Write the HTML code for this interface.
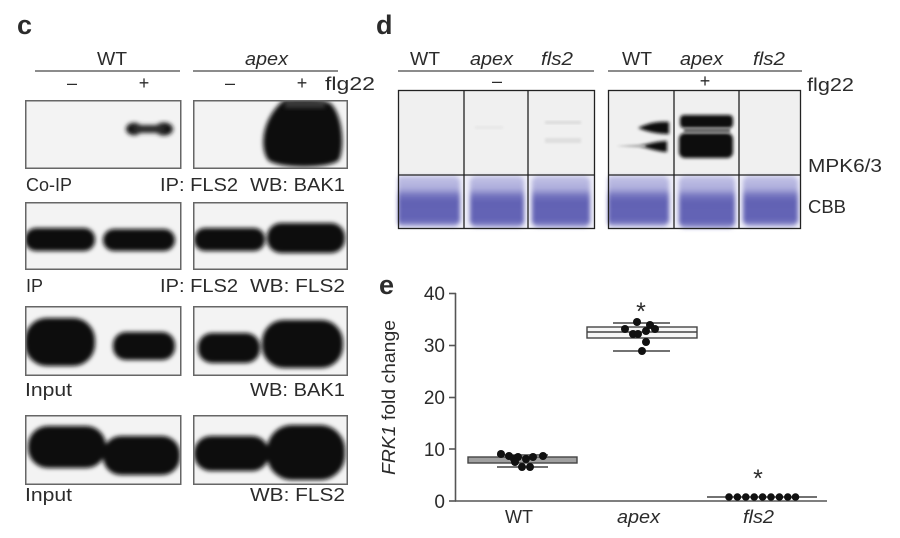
<!DOCTYPE html>
<html>
<head>
<meta charset="utf-8">
<style>
html,body{margin:0;padding:0;background:#fff;}
svg{display:block;}
text{font-family:"Liberation Sans",Arial,Helvetica,sans-serif;fill:#2b2b2b;}
</style>
</head>
<body>
<svg width="900" height="538" viewBox="0 0 900 538" xmlns="http://www.w3.org/2000/svg">
<defs>
  <filter id="b1" x="-30%" y="-30%" width="160%" height="160%"><feGaussianBlur stdDeviation="1.2"/></filter>
  <filter id="b15" x="-30%" y="-50%" width="160%" height="200%"><feGaussianBlur stdDeviation="1.7"/></filter>
  <filter id="b2" x="-30%" y="-30%" width="160%" height="160%"><feGaussianBlur stdDeviation="2"/></filter>
  <filter id="b3" x="-30%" y="-30%" width="160%" height="160%"><feGaussianBlur stdDeviation="2.8"/></filter>
  <linearGradient id="cbb" x1="0" y1="0" x2="0" y2="1">
    <stop offset="0" stop-color="#c2c2e6"/>
    <stop offset="0.25" stop-color="#aeaedc"/>
    <stop offset="0.38" stop-color="#7676c0"/>
    <stop offset="0.5" stop-color="#6262b4"/>
    <stop offset="0.88" stop-color="#6464b6"/>
    <stop offset="1" stop-color="#9a9ad2"/>
  </linearGradient>
  <clipPath id="cA1"><rect x="25" y="100" width="156" height="69"/></clipPath>
  <clipPath id="cB1"><rect x="193" y="100" width="155" height="69"/></clipPath>
  <clipPath id="cA2"><rect x="25" y="202" width="156" height="68"/></clipPath>
  <clipPath id="cB2"><rect x="193" y="202" width="155" height="68"/></clipPath>
  <clipPath id="cA3"><rect x="25" y="306" width="156" height="70"/></clipPath>
  <clipPath id="cB3"><rect x="193" y="306" width="155" height="70"/></clipPath>
  <clipPath id="cA4"><rect x="25" y="415" width="156" height="70"/></clipPath>
  <clipPath id="cB4"><rect x="193" y="415" width="155" height="70"/></clipPath>
  <clipPath id="dL1"><rect x="398" y="175" width="66" height="54"/></clipPath>
  <clipPath id="dL2"><rect x="464" y="175" width="64" height="54"/></clipPath>
  <clipPath id="dL3"><rect x="528" y="175" width="67" height="54"/></clipPath>
  <clipPath id="dR1"><rect x="608" y="175" width="66" height="54"/></clipPath>
  <clipPath id="dR2"><rect x="674" y="175" width="65" height="54"/></clipPath>
  <clipPath id="dR3"><rect x="739" y="175" width="62" height="54"/></clipPath>
  <clipPath id="dRt"><rect x="608" y="90" width="193" height="85"/></clipPath>
</defs>

<!-- ================= Panel c ================= -->
<text x="17" y="34" font-size="27" font-weight="bold" fill="#111">c</text>
<text x="97" y="65" font-size="18" textLength="30" lengthAdjust="spacingAndGlyphs">WT</text>
<text x="245" y="65" font-size="18" font-style="italic" textLength="43" lengthAdjust="spacingAndGlyphs">apex</text>
<line x1="35" y1="71" x2="180" y2="71" stroke="#666" stroke-width="1.5"/>
<line x1="193" y1="71" x2="338" y2="71" stroke="#666" stroke-width="1.5"/>
<text x="72" y="89" font-size="18" text-anchor="middle">–</text>
<text x="144" y="89" font-size="18" text-anchor="middle">+</text>
<text x="230" y="89" font-size="18" text-anchor="middle">–</text>
<text x="302" y="89" font-size="18" text-anchor="middle">+</text>
<text x="325" y="90" font-size="18" textLength="50" lengthAdjust="spacingAndGlyphs">flg22</text>

<!-- Row 1 Co-IP -->
<rect x="25.75" y="100.75" width="155" height="67.5" fill="#f3f3f3"/>
<rect x="193.75" y="100.75" width="153.5" height="67.5" fill="#f3f3f3"/>
<g clip-path="url(#cA1)">
  <g filter="url(#b2)" fill="#141414">
    <ellipse cx="134" cy="129" rx="8" ry="6.2"/>
    <ellipse cx="164" cy="129" rx="9" ry="6.5"/>
    <rect x="134" y="125" width="30" height="8" fill="#2a2a2a"/>
  </g>
</g>
<g clip-path="url(#cB1)">
  <path d="M 284 100 C 300 98, 318 98, 330 103 C 343 114, 345 148, 339 160 C 330 169, 278 169, 268 160 C 259 147, 262 118, 284 100 Z" fill="#0c0c0c" filter="url(#b2)"/>
  <rect x="285" y="99" width="40" height="9" fill="#555" filter="url(#b2)" opacity="0.6"/>
</g>
<rect x="25.75" y="100.75" width="155" height="67.5" fill="none" stroke="#666" stroke-width="1.5"/>
<rect x="193.75" y="100.75" width="153.5" height="67.5" fill="none" stroke="#666" stroke-width="1.5"/>
<text x="26" y="191" font-size="18" textLength="46" lengthAdjust="spacingAndGlyphs">Co-IP</text>
<text x="160" y="191" font-size="18" textLength="78" lengthAdjust="spacingAndGlyphs">IP: FLS2</text>
<text x="250" y="191" font-size="18" textLength="95" lengthAdjust="spacingAndGlyphs">WB: BAK1</text>

<!-- Row 2 IP -->
<rect x="25.75" y="202.75" width="155" height="66.5" fill="#f3f3f3"/>
<rect x="193.75" y="202.75" width="153.5" height="66.5" fill="#f3f3f3"/>
<g clip-path="url(#cA2)" filter="url(#b2)" fill="#0c0c0c">
  <rect x="25" y="228" width="70" height="23" rx="11"/>
  <rect x="103" y="229" width="72" height="22" rx="11"/>
</g>
<g clip-path="url(#cB2)" filter="url(#b2)" fill="#0c0c0c">
  <rect x="194" y="228" width="71" height="23" rx="11"/>
  <rect x="267" y="223" width="78" height="30" rx="14"/>
</g>
<rect x="25.75" y="202.75" width="155" height="66.5" fill="none" stroke="#666" stroke-width="1.5"/>
<rect x="193.75" y="202.75" width="153.5" height="66.5" fill="none" stroke="#666" stroke-width="1.5"/>
<text x="26" y="292" font-size="18" textLength="17" lengthAdjust="spacingAndGlyphs">IP</text>
<text x="160" y="292" font-size="18" textLength="78" lengthAdjust="spacingAndGlyphs">IP: FLS2</text>
<text x="250" y="292" font-size="18" textLength="95" lengthAdjust="spacingAndGlyphs">WB: FLS2</text>

<!-- Row 3 Input BAK1 -->
<rect x="25.75" y="306.75" width="155" height="68.5" fill="#f3f3f3"/>
<rect x="193.75" y="306.75" width="153.5" height="68.5" fill="#f3f3f3"/>
<g clip-path="url(#cA3)" filter="url(#b2)" fill="#0c0c0c">
  <rect x="25" y="318" width="70" height="48" rx="22"/>
  <rect x="113" y="332" width="62" height="28" rx="13"/>
</g>
<g clip-path="url(#cB3)" filter="url(#b2)" fill="#0c0c0c">
  <rect x="198" y="333" width="62" height="30" rx="14"/>
  <rect x="262" y="320" width="81" height="48" rx="22"/>
</g>
<rect x="25.75" y="306.75" width="155" height="68.5" fill="none" stroke="#666" stroke-width="1.5"/>
<rect x="193.75" y="306.75" width="153.5" height="68.5" fill="none" stroke="#666" stroke-width="1.5"/>
<text x="25" y="396" font-size="18" textLength="47" lengthAdjust="spacingAndGlyphs">Input</text>
<text x="250" y="396" font-size="18" textLength="95" lengthAdjust="spacingAndGlyphs">WB: BAK1</text>

<!-- Row 4 Input FLS2 -->
<rect x="25.75" y="415.75" width="155" height="68.5" fill="#f3f3f3"/>
<rect x="193.75" y="415.75" width="153.5" height="68.5" fill="#f3f3f3"/>
<g clip-path="url(#cA4)" filter="url(#b2)" fill="#0c0c0c">
  <rect x="28" y="426" width="78" height="42" rx="20"/>
  <rect x="103" y="436" width="77" height="39" rx="18"/>
</g>
<g clip-path="url(#cB4)" filter="url(#b2)" fill="#0c0c0c">
  <rect x="194" y="436" width="75" height="35" rx="17"/>
  <rect x="267" y="425" width="78" height="55" rx="25"/>
</g>
<rect x="25.75" y="415.75" width="155" height="68.5" fill="none" stroke="#666" stroke-width="1.5"/>
<rect x="193.75" y="415.75" width="153.5" height="68.5" fill="none" stroke="#666" stroke-width="1.5"/>
<text x="25" y="501" font-size="18" textLength="47" lengthAdjust="spacingAndGlyphs">Input</text>
<text x="250" y="501" font-size="18" textLength="95" lengthAdjust="spacingAndGlyphs">WB: FLS2</text>

<!-- ================= Panel d ================= -->
<text x="376" y="34" font-size="27" font-weight="bold" fill="#111">d</text>
<text x="410" y="65" font-size="18" textLength="30" lengthAdjust="spacingAndGlyphs">WT</text>
<text x="470" y="65" font-size="18" font-style="italic" textLength="43" lengthAdjust="spacingAndGlyphs">apex</text>
<text x="541" y="65" font-size="18" font-style="italic" textLength="32" lengthAdjust="spacingAndGlyphs">fls2</text>
<text x="622" y="65" font-size="18" textLength="30" lengthAdjust="spacingAndGlyphs">WT</text>
<text x="680" y="65" font-size="18" font-style="italic" textLength="43" lengthAdjust="spacingAndGlyphs">apex</text>
<text x="753" y="65" font-size="18" font-style="italic" textLength="32" lengthAdjust="spacingAndGlyphs">fls2</text>
<line x1="398" y1="71" x2="594" y2="71" stroke="#666" stroke-width="1.5"/>
<line x1="608" y1="71" x2="802" y2="71" stroke="#666" stroke-width="1.5"/>
<text x="497" y="87" font-size="18" text-anchor="middle">–</text>
<text x="705" y="87" font-size="18" text-anchor="middle">+</text>
<text x="807" y="91" font-size="18" textLength="47" lengthAdjust="spacingAndGlyphs">flg22</text>
<text x="808" y="172" font-size="18" textLength="74" lengthAdjust="spacingAndGlyphs">MPK6/3</text>
<text x="808" y="213" font-size="18" textLength="38" lengthAdjust="spacingAndGlyphs">CBB</text>

<!-- left box -->
<rect x="398" y="90" width="197" height="85" fill="#f0f0f0"/>
<rect x="398" y="175" width="197" height="54" fill="#eeeef8"/>
<rect x="545" y="121" width="36" height="3" fill="#dadada" filter="url(#b1)"/>
<rect x="545" y="138" width="36" height="5" fill="#dedede" filter="url(#b1)"/>
<rect x="475" y="126" width="28" height="3" fill="#e6e6e6" filter="url(#b1)"/>
<g filter="url(#b2)">
  <g clip-path="url(#dL1)"><rect x="396" y="176" width="64" height="50" rx="6" fill="url(#cbb)"/></g>
  <g clip-path="url(#dL2)"><rect x="470" y="176" width="54" height="51" rx="6" fill="url(#cbb)"/></g>
  <g clip-path="url(#dL3)"><rect x="532" y="176" width="58" height="51" rx="6" fill="url(#cbb)"/></g>
</g>
<rect x="398.5" y="90.5" width="196" height="138" fill="none" stroke="#222" stroke-width="1.3"/>
<line x1="398" y1="175" x2="595" y2="175" stroke="#222" stroke-width="1.3"/>
<line x1="464" y1="90" x2="464" y2="229" stroke="#222" stroke-width="1.3"/>
<line x1="528" y1="90" x2="528" y2="229" stroke="#222" stroke-width="1.3"/>

<!-- right box -->
<rect x="608" y="90" width="193" height="85" fill="#f0f0f0"/>
<rect x="608" y="175" width="193" height="54" fill="#eeeef8"/>
<g clip-path="url(#dRt)">
  <g filter="url(#b15)" fill="#0e0e0e">
    <path d="M 638 128 C 648 123, 658 121, 669 122 L 669 134 C 658 134, 648 132, 638 128 Z"/>
    <path d="M 640 146 C 650 143, 660 141, 667 141 L 667 152 C 660 152, 650 149, 640 146 Z"/>
  </g>
  <path d="M 616 146 L 645 144 L 645 148 Z" fill="#b0b0b0" filter="url(#b1)"/>
  <g filter="url(#b15)" fill="#0a0a0a">
    <rect x="680" y="115" width="53" height="13" rx="4"/>
    <rect x="679" y="133" width="54" height="25" rx="6"/>
  </g>
  <rect x="684" y="128" width="46" height="5" fill="#666" filter="url(#b1)"/>
</g>
<g filter="url(#b2)">
  <g clip-path="url(#dR1)"><rect x="606" y="176" width="63" height="50" rx="6" fill="url(#cbb)"/></g>
  <g clip-path="url(#dR2)"><rect x="679" y="176" width="56" height="52" rx="6" fill="url(#cbb)"/></g>
  <g clip-path="url(#dR3)"><rect x="743" y="176" width="55" height="50" rx="6" fill="url(#cbb)"/></g>
</g>
<rect x="608.5" y="90.5" width="192" height="138" fill="none" stroke="#222" stroke-width="1.3"/>
<line x1="608" y1="175" x2="801" y2="175" stroke="#222" stroke-width="1.3"/>
<line x1="674" y1="90" x2="674" y2="229" stroke="#222" stroke-width="1.3"/>
<line x1="739" y1="90" x2="739" y2="229" stroke="#222" stroke-width="1.3"/>

<!-- ================= Panel e ================= -->
<text x="379" y="294" font-size="27" font-weight="bold" fill="#111">e</text>
<text transform="translate(395,475) rotate(-90)" font-size="18" textLength="155" lengthAdjust="spacingAndGlyphs"><tspan font-style="italic">FRK1</tspan> fold change</text>

<!-- axes -->
<line x1="455.5" y1="293" x2="455.5" y2="501" stroke="#555" stroke-width="1.6"/>
<line x1="455" y1="501" x2="827" y2="501" stroke="#555" stroke-width="1.6"/>
<g stroke="#555" stroke-width="1.6">
  <line x1="449" y1="293.5" x2="456" y2="293.5"/>
  <line x1="449" y1="345.5" x2="456" y2="345.5"/>
  <line x1="449" y1="397.5" x2="456" y2="397.5"/>
  <line x1="449" y1="449" x2="456" y2="449"/>
  <line x1="449" y1="501" x2="456" y2="501"/>
</g>
<g font-size="19" text-anchor="end">
  <text x="445" y="300">40</text>
  <text x="445" y="352">30</text>
  <text x="445" y="404">20</text>
  <text x="445" y="456">10</text>
  <text x="445" y="508">0</text>
</g>
<text x="505" y="523" font-size="18" textLength="28" lengthAdjust="spacingAndGlyphs">WT</text>
<text x="617" y="523" font-size="18" font-style="italic" textLength="43" lengthAdjust="spacingAndGlyphs">apex</text>
<text x="743" y="523" font-size="18" font-style="italic" textLength="31" lengthAdjust="spacingAndGlyphs">fls2</text>

<!-- WT box -->
<line x1="497" y1="455" x2="548" y2="455" stroke="#444" stroke-width="1.5"/>
<line x1="497" y1="467" x2="548" y2="467" stroke="#444" stroke-width="1.5"/>
<rect x="468" y="457" width="109" height="6" fill="#a0a0a0" stroke="#444" stroke-width="1.4"/>
<g fill="#111">
  <circle cx="501" cy="454" r="4"/>
  <circle cx="509" cy="456" r="4"/>
  <circle cx="514" cy="459" r="4"/>
  <circle cx="518" cy="457" r="4"/>
  <circle cx="526" cy="459" r="4"/>
  <circle cx="533" cy="457" r="4"/>
  <circle cx="543" cy="456" r="4"/>
  <circle cx="515" cy="462" r="4"/>
  <circle cx="522" cy="467" r="4"/>
  <circle cx="530" cy="467" r="4"/>
</g>

<!-- apex box -->
<line x1="613" y1="323" x2="670" y2="323" stroke="#444" stroke-width="1.5"/>
<line x1="613" y1="351" x2="670" y2="351" stroke="#444" stroke-width="1.5"/>
<rect x="587" y="327" width="110" height="11" fill="#f6f6f6" stroke="#444" stroke-width="1.4"/>
<line x1="587" y1="332" x2="697" y2="332" stroke="#444" stroke-width="1.4"/>
<g fill="#111">
  <circle cx="637" cy="322" r="4"/>
  <circle cx="625" cy="329" r="4"/>
  <circle cx="633" cy="334" r="4"/>
  <circle cx="638" cy="334" r="4"/>
  <circle cx="646" cy="331" r="4"/>
  <circle cx="650" cy="325" r="4"/>
  <circle cx="655" cy="329" r="4"/>
  <circle cx="646" cy="342" r="4"/>
  <circle cx="642" cy="351" r="4"/>
</g>
<text x="641" y="320" font-size="25" text-anchor="middle">*</text>

<!-- fls2 -->
<line x1="707" y1="497" x2="817" y2="497" stroke="#444" stroke-width="1.6"/>
<g fill="#111">
  <circle cx="729" cy="497" r="3.8"/>
  <circle cx="737.4" cy="497" r="3.8"/>
  <circle cx="745.8" cy="497" r="3.8"/>
  <circle cx="754.2" cy="497" r="3.8"/>
  <circle cx="762.6" cy="497" r="3.8"/>
  <circle cx="771" cy="497" r="3.8"/>
  <circle cx="779.4" cy="497" r="3.8"/>
  <circle cx="787.8" cy="497" r="3.8"/>
  <circle cx="795.5" cy="497" r="3.8"/>
</g>
<text x="758" y="487" font-size="25" text-anchor="middle">*</text>
</svg>
</body>
</html>
